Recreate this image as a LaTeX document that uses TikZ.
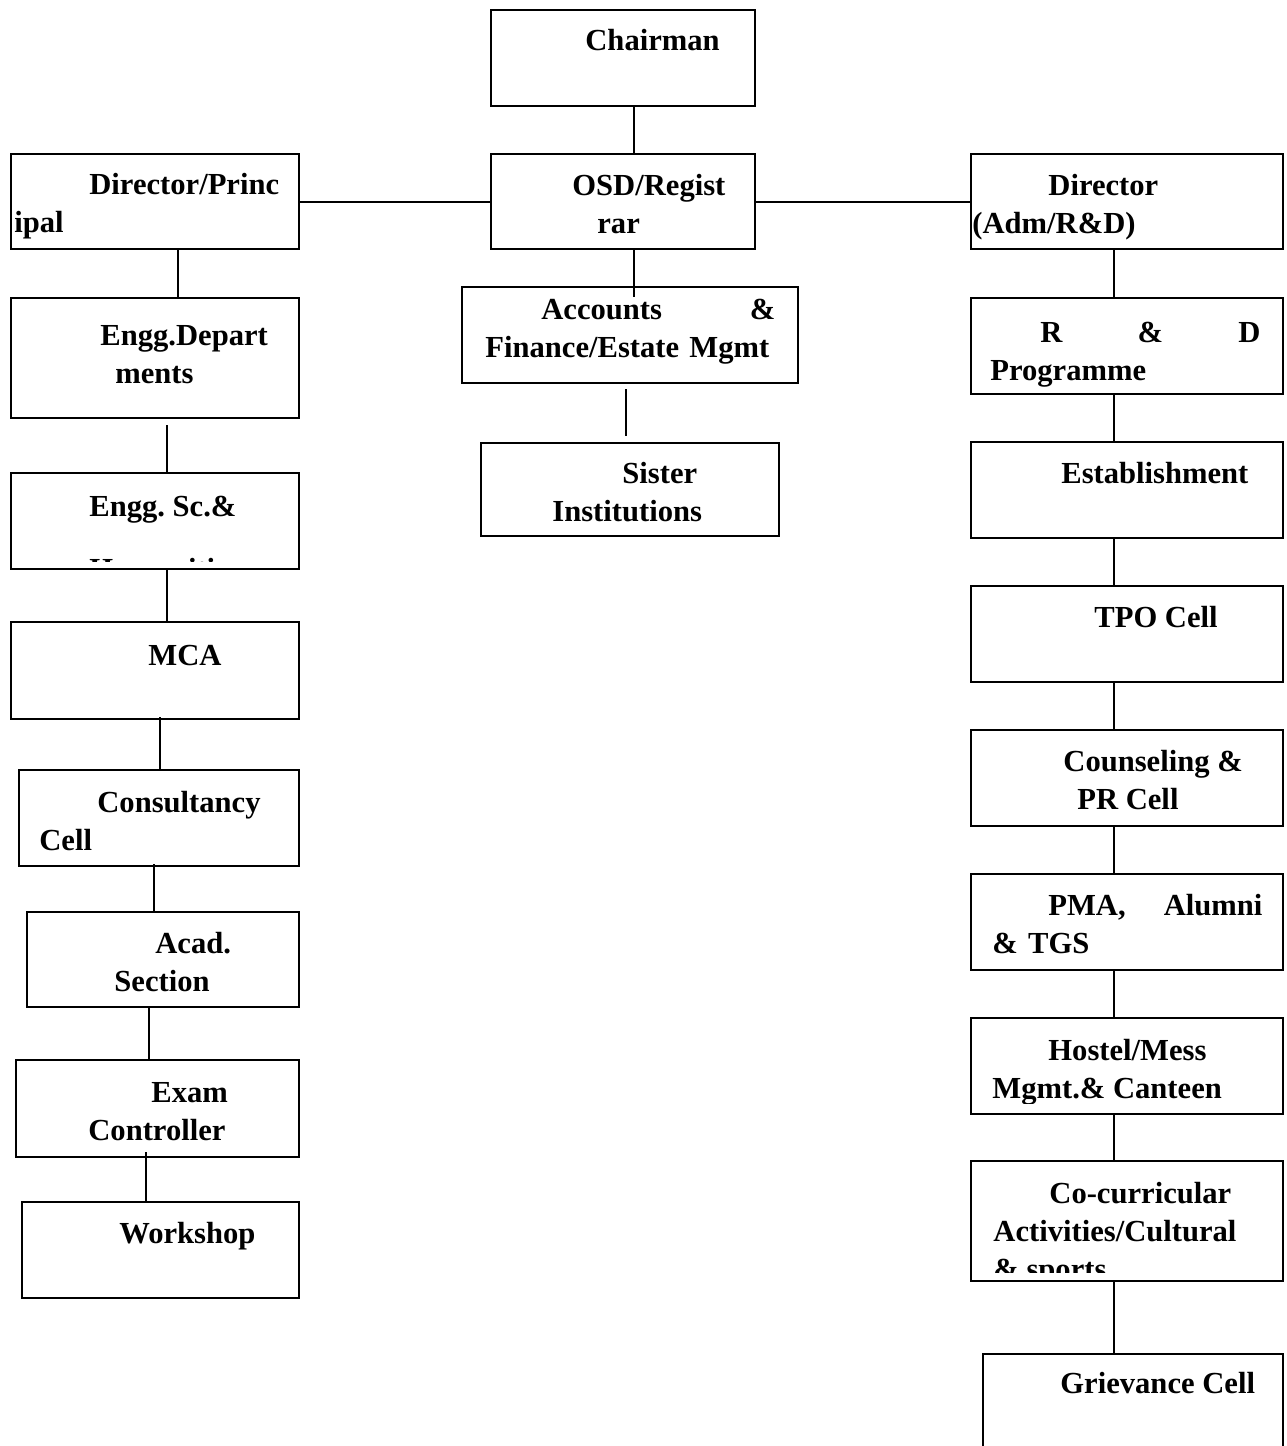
\documentclass[tikz,border=0pt]{standalone}
\usepackage{fontspec}
\setmainfont{Liberation Serif}
\newlength{\px}
\setlength{\px}{0.5pt}
\tikzset{
  box/.style 2 args={draw, line width=1pt, anchor=north west, inner sep=0pt,
    minimum width=#1*0.5pt, minimum height=#2*0.5pt},
  txt/.style={anchor=north west, inner sep=0pt, align=left,
    font=\fontsize{15.3}{19}\selectfont\bfseries\frenchspacing},
  link/.style={line width=1pt},
}
\begin{document}
\begin{tikzpicture}[x=0.5pt,y=-0.5pt]
  \clip (0,0) rectangle (1286,1446);

  % top row
  \node[box={264}{96}] (chair) at (490,9) {};
  \node[box={264}{95}] (osd) at (490,153) {};
  \node[box={288}{95}] (dirp) at (10,153) {};
  \node[box={312}{95}] (dira) at (970,153) {};

  \node[txt] (chair-t) at (585,23) {\strut Chairman};
  \node[txt] (osd-t) at (572,168) {\strut OSD/Regist\\\hspace*{25\px}rar};
  \node[txt] (dirp-t) at (14,167) {\strut\hspace*{75\px}Director/Princ\\ipal};
  \node[txt] (dira-t) at (972,168) {\strut\hspace*{76\px}Director\\(Adm/R\&D)};

  % left column
  \node[box={288}{120}] (engd) at (10,297) {};
  \node[box={288}{96}] (engs) at (10,472) {};
  \node[box={288}{97}] (mca) at (10,621) {};
  \node[box={280}{96}] (cons) at (18,769) {};
  \node[box={272}{95}] (acad) at (26,911) {};
  \node[box={283}{97}] (exam) at (15,1059) {};
  \node[box={277}{96}] (work) at (21,1201) {};

  \node[txt] (engd-t) at (100,318) {\strut Engg.Depart\\\hspace*{15\px}ments};
  \begin{scope}
    \clip (engs.north west) rectangle ([yshift=4.5pt]engs.south east);
    \node[txt] (engs-t) at (89,489) {\strut Engg. Sc.\&\\[12.5pt]Humanities};
  \end{scope}
  \node[txt] (mca-t) at (148,638) {\strut MCA};
  \node[txt] (cons-t) at (39,785) {\strut\hspace*{58\px}Consultancy\\Cell};
  \node[txt] (acad-t) at (114,926) {\strut\hspace*{41\px}Acad.\\Section};
  \node[txt] (exam-t) at (88,1075) {\strut\hspace*{63\px}Exam\\Controller};
  \node[txt] (work-t) at (119,1216) {\strut Workshop};

  % middle column
  \node[box={336}{96}] (acc) at (461,286) {};
  \node[box={298}{93}] (sister) at (480,442) {};

  \begin{scope}
    \clip (acc.north west) rectangle ([yshift=6.5pt]acc.south east);
    \node[txt, text width=145pt] (acc-t) at (485,292)
      {\strut\hspace*{56\px}Accounts\hfill\&\\Finance/Estate Mgmt};
  \end{scope}
  \node[txt] (sister-t) at (552,456) {\strut\hspace*{70\px}Sister\\Institutions};

  % right column
  \node[box={312}{96}] (rnd) at (970,297) {};
  \node[box={312}{96}] (estab) at (970,441) {};
  \node[box={312}{96}] (tpo) at (970,585) {};
  \node[box={312}{96}] (couns) at (970,729) {};
  \node[box={312}{96}] (pma) at (970,873) {};
  \node[box={312}{96}] (hostel) at (970,1017) {};
  \node[box={312}{120}] (cocur) at (970,1160) {};
  \node[box={300}{130}] (griev) at (982,1353) {};

  \node[txt, text width=135pt] (rnd-t) at (990,315)
    {\strut\hspace*{50\px}R\hfill\&\hfill D\\Programme};
  \node[txt] (estab-t) at (1061,456) {\strut Establishment};
  \node[txt] (tpo-t) at (1094,600) {\strut TPO Cell};
  \node[txt] (couns-t) at (1063,744) {\strut Counseling \&\\\hspace*{14\px}PR Cell};
  \node[txt, text width=135pt] (pma-t) at (992,888)
    {\strut\hspace*{56\px}PMA,\hfill Alumni\\\& TGS};
  \begin{scope}
    \clip (hostel.north west) rectangle ([yshift=6pt]hostel.south east);
    \node[txt] (hostel-t) at (992,1033) {\strut\hspace*{56\px}Hostel/Mess\\Mgmt.\& Canteen};
  \end{scope}
  \begin{scope}
    \clip (cocur.north west) rectangle ([yshift=5pt]cocur.south east);
    \node[txt] (cocur-t) at (993,1176)
      {\strut\hspace*{56\px}Co-curricular\\Activities/Cultural\\\& sports};
  \end{scope}
  \node[txt] (griev-t) at (1060,1366) {\strut Grievance Cell};

  % connectors
  \draw[link] (chair.south -| 634,0) -- (osd.north -| 634,0);
  \draw[link] (dirp) -- (osd);
  \draw[link] (osd) -- (dira);
  \draw[link, shorten >=-5.5pt] (osd.south -| 634,0) -- (acc.north -| 634,0);
  \draw[link, shorten <=2.5pt, shorten >=3pt] (acc.south -| 626,0) -- (sister.north -| 626,0);

  \draw[link] (dirp.south -| 178,0) -- (engd.north -| 178,0);
  \draw[link, shorten <=3pt] (engd.south -| 167,0) -- (engs.north -| 167,0);
  \draw[link] (engs.south -| 167,0) -- (mca.north -| 167,0);
  \draw[link, shorten <=-1.5pt] (mca.south -| 160,0) -- (cons.north -| 160,0);
  \draw[link, shorten <=-1.5pt] (cons.south -| 154,0) -- (acad.north -| 154,0);
  \draw[link] (acad.south -| 149,0) -- (exam.north -| 149,0);
  \draw[link, shorten <=-3pt] (exam.south -| 146,0) -- (work.north -| 146,0);

  \draw[link] (dira.south -| 1114,0) -- (rnd.north -| 1114,0);
  \draw[link] (rnd.south -| 1114,0) -- (estab.north -| 1114,0);
  \draw[link] (estab.south -| 1114,0) -- (tpo.north -| 1114,0);
  \draw[link] (tpo.south -| 1114,0) -- (couns.north -| 1114,0);
  \draw[link] (couns.south -| 1114,0) -- (pma.north -| 1114,0);
  \draw[link] (pma.south -| 1114,0) -- (hostel.north -| 1114,0);
  \draw[link] (hostel.south -| 1114,0) -- (cocur.north -| 1114,0);
  \draw[link] (cocur.south -| 1114,0) -- (griev.north -| 1114,0);
\end{tikzpicture}
\end{document}
